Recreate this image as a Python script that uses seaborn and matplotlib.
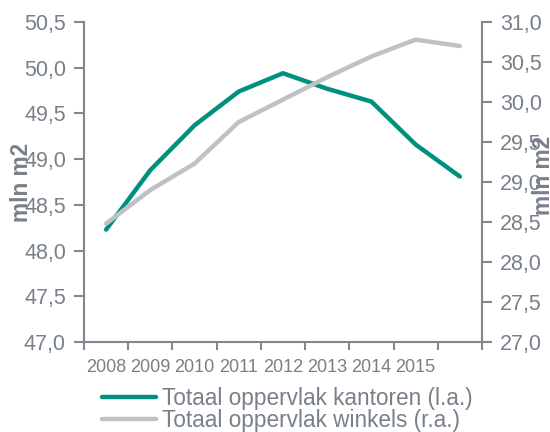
import matplotlib
matplotlib.use("Agg")
import matplotlib.pyplot as plt
import seaborn as sns
import pandas as pd
from matplotlib.ticker import FixedLocator, FixedFormatter

# data
jaren = ["2008", "2009", "2010", "2011", "2012", "2013", "2014", "2015", ""]
kantoren = [48.23, 48.88, 49.37, 49.74, 49.94, 49.77, 49.63, 49.16, 48.81]
winkels = [28.48, 28.90, 29.23, 29.75, 30.03, 30.31, 30.57, 30.78, 30.70]

links_ticks = [47.0, 47.5, 48.0, 48.5, 49.0, 49.5, 50.0, 50.5]
rechts_ticks = [27.0, 27.5, 28.0, 28.5, 29.0, 29.5, 30.0, 30.5, 31.0]

TEAL = "#00907f"
GRIJS = "#c0c1c4"
AS = "#7f8890"
TEKST = "#78808a"

sns.set_theme(style="white")
plt.rcParams["font.family"] = ["Liberation Sans", "DejaVu Sans"]

df = pd.DataFrame({"pos": range(len(jaren)), "kantoren": kantoren, "winkels": winkels})

fig = plt.figure(figsize=(5.5, 4.32), dpi=100)
ax = fig.add_axes([0.1527, 0.2083, 0.7236, 0.7407])
ax2 = ax.twinx()

sns.lineplot(data=df, x="pos", y="kantoren", ax=ax, color=TEAL, linewidth=3.2,
             label="Totaal oppervlak kantoren (l.a.)", legend=False)
sns.lineplot(data=df, x="pos", y="winkels", ax=ax2, color=GRIJS, linewidth=3.2,
             label="Totaal oppervlak winkels (r.a.)", legend=False)

for a in (ax, ax2):
    a.set_xlim(-0.5, len(jaren) - 0.5)
    for s in a.spines.values():
        s.set_visible(False)

ax.set_ylim(47.0, 50.5)
ax.set_yticks(links_ticks)
ax.set_yticklabels([f"{v:.1f}".replace(".", ",") for v in links_ticks])
ax2.set_ylim(27.0, 31.0)
ax2.set_yticks(rechts_ticks)
ax2.set_yticklabels([f"{v:.1f}".replace(".", ",") for v in rechts_ticks])

ax.spines["left"].set_visible(True)
ax.spines["bottom"].set_visible(True)
ax2.spines["right"].set_visible(True)
for s in (ax.spines["left"], ax.spines["bottom"], ax2.spines["right"]):
    s.set_color(AS)
    s.set_linewidth(1.5)

# x-as: labels in het midden, streepjes op de grenzen
ax.xaxis.set_major_locator(FixedLocator(range(len(jaren))))
ax.xaxis.set_major_formatter(FixedFormatter(jaren))
ax.xaxis.set_minor_locator(FixedLocator([i - 0.5 for i in range(len(jaren) + 1)]))
ax.tick_params(axis="x", which="major", length=0, labelsize=13, labelcolor=TEKST, pad=12)
ax.tick_params(axis="x", which="minor", length=6, width=1.5, color=AS, bottom=True)
ax.tick_params(axis="y", length=7, width=1.5, color=AS, labelsize=15.5, labelcolor=TEKST, left=True, pad=6)
ax2.tick_params(axis="y", length=7, width=1.5, color=AS, labelsize=15.5, labelcolor=TEKST, right=True, pad=6)

ax.set_xlabel("")
ax.set_ylabel("mln m2", fontsize=16.3, color=TEKST, fontweight="bold")
ax.yaxis.set_label_coords(-0.128, 0.5)
ax2.set_ylabel("mln m2", fontsize=16.3, color=TEKST, fontweight="bold", rotation=90)
ax2.yaxis.set_label_coords(1.126, 0.52)

handles = ax.get_lines()[:1] + ax2.get_lines()[:1]
labels = ["Totaal oppervlak kantoren (l.a.)", "Totaal oppervlak winkels (r.a.)"]
leg = fig.legend(handles, labels, loc="upper left", bbox_to_anchor=(0.185, 0.104),
                 frameon=False, fontsize=16.3, handlelength=2.4, handletextpad=0.25,
                 labelspacing=-0.05, borderpad=0, borderaxespad=0)
for t in leg.get_texts():
    t.set_color(TEKST)

fig.savefig("out.png", dpi=100)
